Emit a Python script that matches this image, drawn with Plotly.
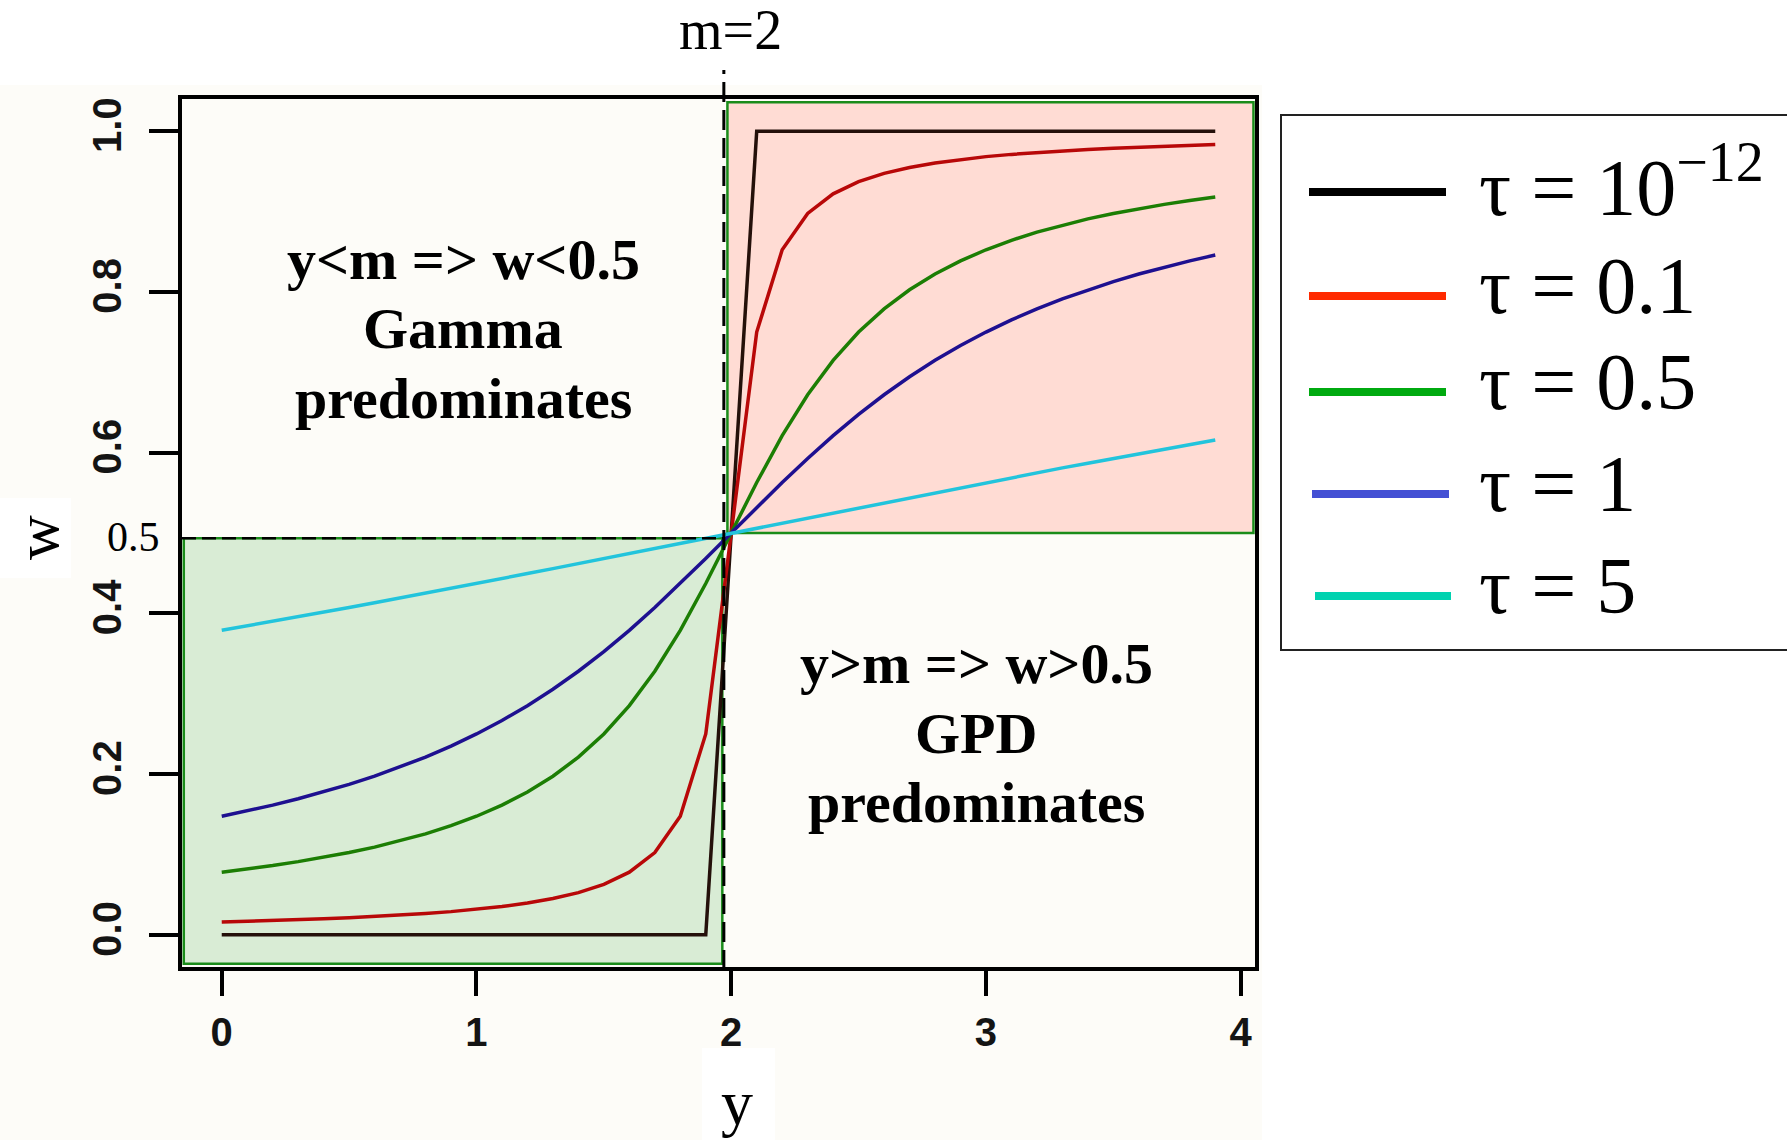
import plotly.graph_objects as go

# ---- data -------------------------------------------------------------
y_vals = [0.0, 0.1, 0.2, 0.3, 0.4, 0.5, 0.6, 0.7, 0.8, 0.9,
          1.0, 1.1, 1.2, 1.3, 1.4, 1.5, 1.6, 1.7, 1.8, 1.9,
          2.0, 2.1, 2.2, 2.3, 2.4, 2.5, 2.6, 2.7, 2.8, 2.9,
          3.0, 3.1, 3.2, 3.3, 3.4, 3.5, 3.6, 3.7, 3.8, 3.9]

w_tau_1e12 = [0, 0, 0, 0, 0, 0, 0, 0, 0, 0,
              0, 0, 0, 0, 0, 0, 0, 0, 0, 0,
              0.5, 1, 1, 1, 1, 1, 1, 1, 1, 1,
              1, 1, 1, 1, 1, 1, 1, 1, 1, 1]

w_tau_0_1 = [0.0159, 0.0167, 0.0177, 0.0187, 0.0199, 0.0212, 0.0227, 0.0244, 0.0265, 0.0289,
             0.0317, 0.0352, 0.0396, 0.0452, 0.0526, 0.0628, 0.0780, 0.1024, 0.1476, 0.2500,
             0.5000, 0.7500, 0.8524, 0.8976, 0.9220, 0.9372, 0.9474, 0.9548, 0.9604, 0.9648,
             0.9683, 0.9711, 0.9735, 0.9756, 0.9773, 0.9788, 0.9801, 0.9813, 0.9823, 0.9833]

w_tau_0_5 = [0.0780, 0.0819, 0.0862, 0.0911, 0.0964, 0.1024, 0.1092, 0.1169, 0.1257, 0.1358,
             0.1476, 0.1614, 0.1778, 0.1974, 0.2211, 0.2500, 0.2852, 0.3280, 0.3789, 0.4372,
             0.5000, 0.5628, 0.6211, 0.6720, 0.7148, 0.7500, 0.7789, 0.8026, 0.8222, 0.8386,
             0.8524, 0.8642, 0.8743, 0.8831, 0.8908, 0.8976, 0.9036, 0.9089, 0.9138, 0.9181]

w_tau_1 = [0.1476, 0.1542, 0.1614, 0.1693, 0.1778, 0.1872, 0.1974, 0.2087, 0.2211, 0.2349,
           0.2500, 0.2667, 0.2852, 0.3056, 0.3280, 0.3524, 0.3789, 0.4072, 0.4372, 0.4683,
           0.5000, 0.5317, 0.5628, 0.5928, 0.6211, 0.6476, 0.6720, 0.6944, 0.7148, 0.7333,
           0.7500, 0.7651, 0.7789, 0.7913, 0.8026, 0.8128, 0.8222, 0.8307, 0.8386, 0.8458]

w_tau_5 = [0.3789, 0.3844, 0.3900, 0.3957, 0.4014, 0.4072, 0.4131, 0.4190, 0.4250, 0.4311,
           0.4372, 0.4433, 0.4495, 0.4557, 0.4620, 0.4683, 0.4746, 0.4809, 0.4873, 0.4936,
           0.5000, 0.5064, 0.5127, 0.5191, 0.5254, 0.5317, 0.5380, 0.5443, 0.5505, 0.5567,
           0.5628, 0.5689, 0.5750, 0.5810, 0.5869, 0.5928, 0.5986, 0.6043, 0.6100, 0.6156]

m_value = 2
x_ticks = [0, 1, 2, 3, 4]
w_ticks = [0.0, 0.2, 0.4, 0.6, 0.8, 1.0]
w_tick_text = ["0.0", "0.2", "0.4", "0.6", "0.8", "1.0"]

legend_labels = ["τ = 10<sup>−12</sup>", "τ = 0.1", "τ = 0.5", "τ = 1", "τ = 5"]

# ---- styling ----------------------------------------------------------
W, H = 1787, 1140
L, R, T, B = 182, 1255, 99, 967          # plot area edges (px)
OFFWHITE = "#FDFCF8"
SERIF = "Liberation Serif"
SANS = "Liberation Sans"

curve_colors = ["#24100a", "#b80808", "#1c7e04", "#1e1090", "#22c4dc"]
legend_colors = ["#000000", "#ff2a00", "#00aa10", "#4450d4", "#00d2b0"]


def px_x(px):
    return (px - L) / (R - L)


def px_y(py):
    return (B - py) / (B - T)


fig = go.Figure()

series = [w_tau_1e12, w_tau_0_1, w_tau_0_5, w_tau_1, w_tau_5]
for vals, col in zip(series, curve_colors):
    fig.add_trace(go.Scatter(x=y_vals, y=vals, mode="lines",
                             line=dict(color=col, width=3.5),
                             showlegend=False, hoverinfo="skip"))

shapes = []
# page background: off-white block with white surround
shapes.append(dict(type="rect", xref="paper", yref="paper", layer="below",
                   x0=px_x(0), x1=px_x(1262), y0=px_y(1140), y1=px_y(85),
                   fillcolor=OFFWHITE, line=dict(width=0)))
# white patches behind the axis titles
shapes.append(dict(type="rect", xref="paper", yref="paper", layer="below",
                   x0=px_x(0), x1=px_x(71), y0=px_y(578), y1=px_y(498),
                   fillcolor="white", line=dict(width=0)))
shapes.append(dict(type="rect", xref="paper", yref="paper", layer="below",
                   x0=px_x(702), x1=px_x(775), y0=px_y(1140), y1=px_y(1048),
                   fillcolor="white", line=dict(width=0)))

# shaded quadrants
shapes.append(dict(type="rect", xref="x", yref="y", layer="below",
                   x0=-0.149, x1=1.965, y0=-0.036, y1=0.4935,
                   fillcolor="#D9ECD5", line=dict(color="#1a8c1a", width=2.5)))
shapes.append(dict(type="rect", xref="x", yref="y", layer="below",
                   x0=1.985, x1=4.05, y0=0.5, y1=1.036,
                   fillcolor="#FFDCD4", line=dict(color="#1a8c1a", width=2.5)))

# dashed guides at y = m and w = 0.5
shapes.append(dict(type="line", xref="x", yref="paper", layer="above",
                   x0=1.971, x1=1.971, y0=px_y(970), y1=px_y(70),
                   line=dict(color="black", width=3, dash="20px,8px")))
shapes.append(dict(type="line", xref="x", yref="y", layer="above",
                   x0=-0.156, x1=1.971, y0=0.4935, y1=0.4935,
                   line=dict(color="black", width=2.5, dash="14px,6px")))

# legend box
shapes.append(dict(type="rect", xref="paper", yref="paper", layer="above",
                   x0=px_x(1281), x1=px_x(1800), y0=px_y(650), y1=px_y(115),
                   fillcolor="white", line=dict(color="#222222", width=2)))

legend_rows = [(1309, 1446, 192), (1309, 1446, 296), (1309, 1446, 392),
               (1312, 1449, 494), (1315, 1451, 596)]
annotations = []
for (x0, x1, yy), col, lab in zip(legend_rows, legend_colors, legend_labels):
    shapes.append(dict(type="line", xref="paper", yref="paper", layer="above",
                       x0=px_x(x0), x1=px_x(x1), y0=px_y(yy), y1=px_y(yy),
                       line=dict(color=col, width=8)))
    annotations.append(dict(xref="paper", yref="paper", x=px_x(1477), y=px_y(yy - 10),
                            xanchor="left", yanchor="middle", showarrow=False,
                            text=lab, font=dict(family=SERIF, size=80, color="black")))

# region descriptions
top_lines = [("y&lt;m =&gt; w&lt;0.5", 259), ("Gamma", 328), ("predominates", 398)]
bot_lines = [("y&gt;m =&gt; w&gt;0.5", 664), ("GPD", 733), ("predominates", 802)]
for txt, yy in top_lines:
    annotations.append(dict(xref="paper", yref="paper", x=px_x(463), y=px_y(yy),
                            xanchor="center", yanchor="middle", showarrow=False,
                            text="<b>" + txt + "</b>",
                            font=dict(family=SERIF, size=58, color="black")))
for txt, yy in bot_lines:
    annotations.append(dict(xref="paper", yref="paper", x=px_x(976), y=px_y(yy),
                            xanchor="center", yanchor="middle", showarrow=False,
                            text="<b>" + txt + "</b>",
                            font=dict(family=SERIF, size=58, color="black")))

# labels around the axes
annotations.append(dict(xref="paper", yref="paper", x=px_x(730), y=px_y(30),
                        xanchor="center", yanchor="middle", showarrow=False,
                        text=f"m={m_value}", font=dict(family=SERIF, size=56, color="black")))
annotations.append(dict(xref="paper", yref="paper", x=px_x(133), y=px_y(537),
                        xanchor="center", yanchor="middle", showarrow=False,
                        text="0.5", font=dict(family=SERIF, size=42, color="black")))
annotations.append(dict(xref="paper", yref="paper", x=px_x(37), y=px_y(538),
                        xanchor="center", yanchor="middle", showarrow=False, textangle=-90,
                        text="w", font=dict(family=SERIF, size=62, color="black")))
annotations.append(dict(xref="paper", yref="paper", x=px_x(737), y=px_y(1102),
                        xanchor="center", yanchor="middle", showarrow=False,
                        text="y", font=dict(family=SERIF, size=64, color="black")))

axis_common = dict(showline=True, mirror=True, linewidth=4, linecolor="black",
                   ticks="outside", tickwidth=4, tickcolor="black",
                   showgrid=False, zeroline=False,
                   tickfont=dict(family=SANS, size=40, color="#141414", weight="bold"))

fig.update_layout(
    width=W, height=H,
    margin=dict(l=L, r=W - R, t=T, b=H - B, pad=0),
    paper_bgcolor="white", plot_bgcolor=OFFWHITE,
    showlegend=False,
    xaxis=dict(range=[-0.156, 4.056], tickvals=x_ticks, ticklen=25,
               ticklabelstandoff=2, **axis_common),
    yaxis=dict(range=[-0.04, 1.04], tickvals=w_ticks, ticktext=w_tick_text,
               tickangle=-90, ticklen=29, ticklabelstandoff=12, **axis_common),
    shapes=shapes,
    annotations=annotations,
)

fig.write_html("out.html")
